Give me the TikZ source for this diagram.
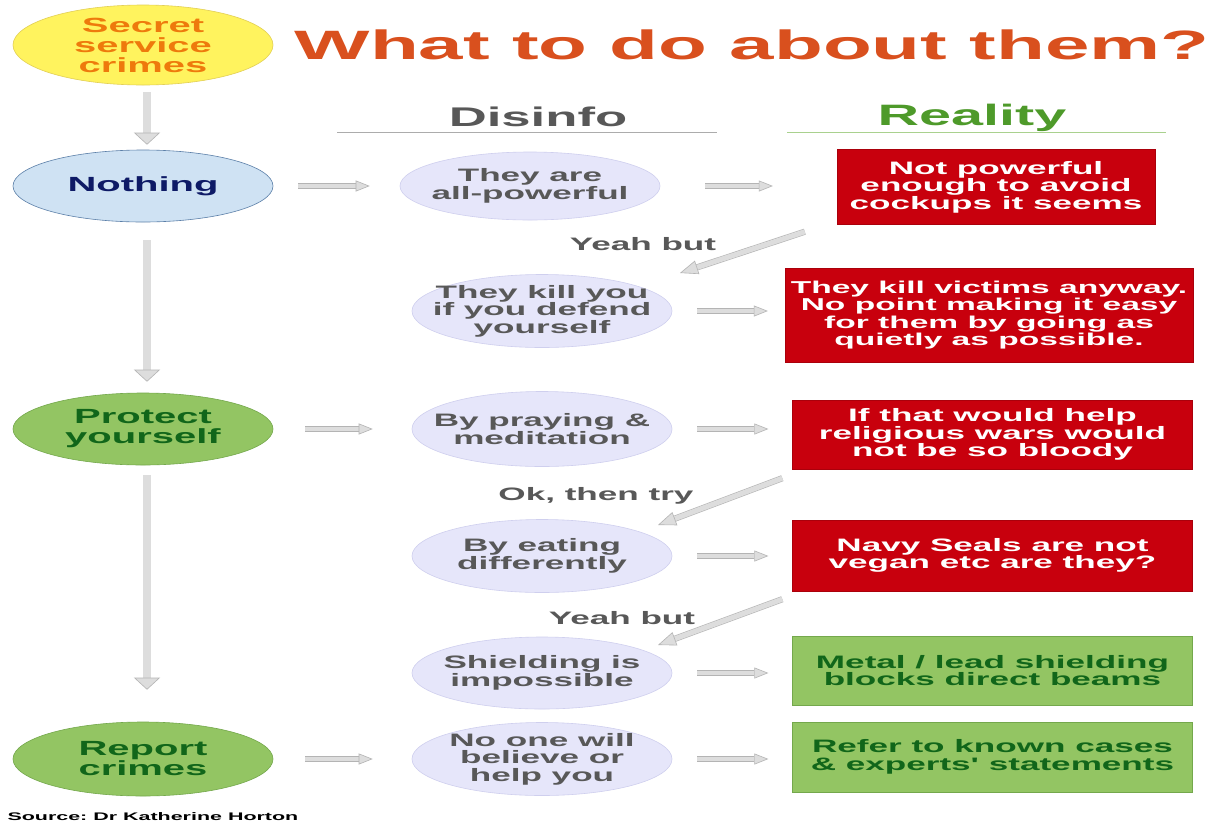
\documentclass[tikz,border=0pt]{standalone}
\usepackage{fontspec}
\setmainfont{Liberation Sans}[FakeStretch=1.95, Ligatures=TeXOff]
\usetikzlibrary{arrows.meta,shapes.geometric,calc}

\definecolor{titleorange}{HTML}{D9501E}
\definecolor{crimeorange}{HTML}{EE7A0C}
\definecolor{crimeyellow}{HTML}{FFF35E}
\definecolor{crimeedge}{HTML}{E2CF55}
\definecolor{nothingblue}{HTML}{CFE2F3}
\definecolor{nothingedge}{HTML}{5B7FA8}
\definecolor{nothingtext}{HTML}{0E1A66}
\definecolor{leafgreen}{HTML}{93C563}
\definecolor{leafedge}{HTML}{74A84C}
\definecolor{leaftext}{HTML}{11661A}
\definecolor{lavender}{HTML}{E6E6FA}
\definecolor{lavedge}{HTML}{CFCFEE}
\definecolor{greytext}{HTML}{585858}
\definecolor{realgreen}{HTML}{4E9A2A}
\definecolor{realline}{HTML}{A9D18E}
\definecolor{boxred}{HTML}{C8000D}
\definecolor{arrowfill}{HTML}{DDDDDD}
\definecolor{arrowedge}{HTML}{B4B4B4}

\begin{document}
\begin{tikzpicture}[x=1pt, y=-1pt,
    oval/.style={ellipse, draw, line width=0.6pt, inner sep=-25pt, minimum width=260pt,
      minimum height=73pt, align=center, font=\bfseries\fontsize{20.5}{20}\selectfont},
    side/.style={oval, fill=lavender, draw=lavedge, text=greytext,
      font=\bfseries\fontsize{18}{17.5}\selectfont},
    greenoval/.style={oval, fill=leafgreen, draw=leafedge, text=leaftext},
    fact/.style={rectangle, minimum width=400pt, minimum height=69pt, inner sep=0pt,
      line width=0.4pt, align=center, font=\bfseries\fontsize{18}{17.5}\selectfont},
    redbox/.style={fact, fill=boxred, draw=boxred!85!black, text=white},
    greenbox/.style={fact, fill=leafgreen, draw=leafedge, text=leaftext},
    remark/.style={anchor=base, text=greytext, font=\bfseries\fontsize{18}{17.5}\selectfont},
    fat/.style={draw=arrowedge, line width=0.6pt, double=arrowfill},
    varrow/.style={fat, double distance=7.5pt,
      -{Triangle[width=26pt,length=12pt,fill=arrowfill,line width=0.6pt]}},
    harrow/.style={fat, double distance=4.5pt,
      -{Triangle[width=11pt,length=14pt,fill=arrowfill,line width=0.6pt]}},
    darrow/.style={fat, double distance=5pt,
      -{Triangle[width=14pt,length=18pt,fill=arrowfill,line width=0.6pt]}}]

  \useasboundingbox[fill=white] (0,0) rectangle (1219,823);

  % Title
  \node[oval, fill=crimeyellow, draw=crimeedge, text=crimeorange, minimum height=80pt]
    (secret) at (143,45) {Secret\\service\\crimes};
  \node[text=titleorange, font=\bfseries\fontsize{41}{41}\selectfont]
    (title) at (752,45) {What to do about them?};

  % Column heads
  \node[anchor=base, text=greytext, font=\bfseries\fontsize{27}{27}\selectfont]
    (disinfo) at (538,126) {Disinfo};
  \node[anchor=base, text=realgreen, font=\bfseries\fontsize{29.5}{29}\selectfont]
    (reality) at (972,125) {Reality};
  \draw[gray!65, line width=1pt] (337,132) -- (717,132);
  \draw[realline, line width=1pt] (787,132) -- (1166,132);

  % Options
  \node[oval, fill=nothingblue, draw=nothingedge, text=nothingtext, minimum height=72pt]
    (nothing) at (143,186) {Nothing};
  \node[greenoval, minimum height=72pt] (protect) at (143,429) {Protect\\yourself};
  \node[greenoval, minimum height=74pt] (report) at (143,759) {Report\\crimes};

  % Disinfo
  \node[side, minimum height=68pt] (allpow) at (530,186) {They are\\all-powerful};
  \node[side] (kill) at (542,311) {They kill you\\if you defend\\yourself};
  \node[side, minimum height=75pt] (pray) at (542,429) {By praying \&\\meditation};
  \node[side] (eat) at (542,556) {By eating\\differently};
  \node[side, minimum height=72pt] (shield) at (542,673) {Shielding is\\impossible};
  \node[side] (noone) at (542,759) {No one will\\believe or\\help you};

  % Reality
  \node[redbox, minimum width=318pt, minimum height=75pt] (nopower) at (996,187)
    {Not powerful\\enough to avoid\\cockups it seems};
  \node[redbox, minimum width=408pt, minimum height=94pt,
    font=\bfseries\fontsize{17.2}{17.5}\selectfont] (anyway) at (989,315)
    {They kill victims anyway.\\No point making it easy\\for them by going as\\quietly as possible.};
  \node[redbox] (wars) at (992.5,434.5)
    {If that would help\\religious wars would\\not be so bloody};
  \node[redbox, minimum height=71pt] (seals) at (992.5,555.5)
    {Navy Seals are not\\vegan etc are they?};
  \node[greenbox] (metal) at (992.5,670.5) {Metal / lead shielding\\blocks direct beams};
  \node[greenbox, minimum height=70pt] (refer) at (992.5,757)
    {Refer to known cases\\\& experts' statements};

  % Objections
  \node[remark] (yeah1) at (643,250) {Yeah but};
  \node[remark] (then) at (596,500) {Ok, then try};
  \node[remark] (yeah2) at (622,624) {Yeah but};

  \node[anchor=base west, font=\bfseries\fontsize{11}{11}\selectfont]
    (source) at (4,820) {Source:\ Dr Katherine Horton};

  % Arrows
  \draw[varrow, shorten <=7pt, shorten >=5pt] ([xshift=4pt]secret.south) -- ([xshift=4pt]nothing.north);
  \draw[varrow, shorten <=18pt, shorten >=11pt] ([xshift=4pt]nothing.south) -- ([xshift=4pt]protect.north);
  \draw[varrow, shorten <=10pt, shorten >=32pt] ([xshift=4pt]protect.south) -- ([xshift=4pt]report.north);

  \foreach \a/\b/\s/\t in {nothing/allpow/25/30, protect/pray/32/39, report/noone/32/39,
      allpow/nopower/45/64, kill/anyway/25/17, pray/wars/25/24, eat/seals/25/24,
      shield/metal/25/24, noone/refer/25/24} {
    \draw[harrow, shorten <=\s pt, shorten >=\t pt] (\a.east) -- (\a.east -| \b.west);
  }

  \draw[darrow] ($(nopower.south west)+(-32,7)$) -- ($(kill.center)+(138,-38)$);
  \draw[darrow] ($(wars.south west)+(-10,9)$) -- ($(eat.center)+(116,-31)$);
  \draw[darrow] ($(seals.south west)+(-10,8)$) -- ($(shield.center)+(116,-28)$);
\end{tikzpicture}
\end{document}
